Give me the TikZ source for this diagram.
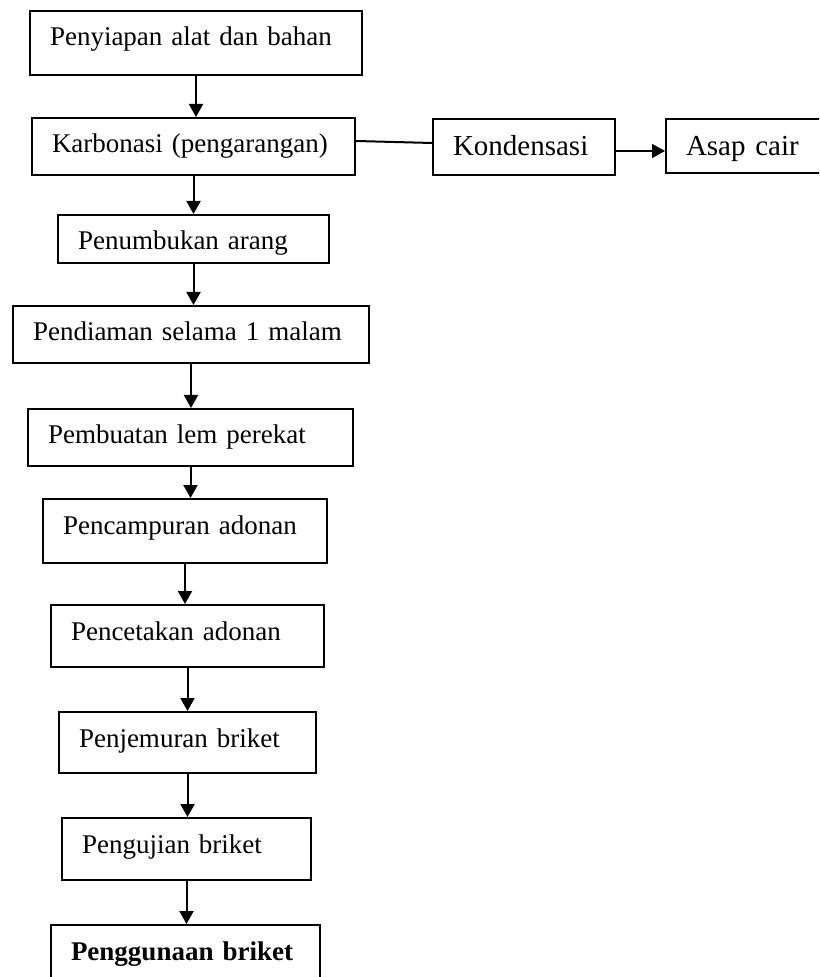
\documentclass[tikz,border=0pt]{standalone}
\usepackage{fontspec}
\setmainfont{Liberation Serif}
\usepackage{tikz}
\usetikzlibrary{arrows.meta}

\tikzset{
	kotak/.style={draw, line width=1pt, anchor=north west, align=left, inner xsep=10pt, inner ysep=0pt, text height=17.5pt, font=\fontsize{13.5pt}{16pt}\selectfont},
	kotakb/.style={kotak, text height=18.5pt, font=\fontsize{14.5pt}{17pt}\selectfont},
	panah/.style={-{Triangle[width=7pt,length=6.5pt]}, line width=1pt},
}

\begin{document}
\begin{tikzpicture}[x=0.5pt, y=-0.5pt]
				\useasboundingbox (0,0) rectangle (819,977);
				\clip (0,0) rectangle (819,977);
				
				%Main steps
				\node[kotak, text width=146pt, text depth=14.5pt] (siap) at (29,10) {Penyiapan alat dan bahan};
				\node[kotak, text width=141.5pt, text depth=11pt] (karbon) at (31,117) {Karbonasi (pengarangan)};
				\node[kotak, text width=115.5pt, text depth=6.5pt] (tumbuk) at (57,214) {Penumbukan arang};
				\node[kotak, text width=158pt, text depth=11pt] (diam) at (12,305) {Pendiaman selama 1 malam};
				\node[kotak, text width=142.5pt, text depth=11pt] (lem) at (27,408) {Pembuatan lem perekat};
				\node[kotak, text width=122pt, text depth=14.5pt] (campur) at (42,498) {Pencampuran adonan};
				\node[kotak, text width=116.5pt, text depth=13.5pt] (cetak) at (50,604) {Pencetakan adonan};
				\node[kotak, text width=108.5pt, text depth=13pt] (jemur) at (58,711) {Penjemuran briket};
				\node[kotak, text width=104.5pt, text depth=13.5pt] (uji) at (61,817) {Pengujian briket};
				\node[kotak, text width=114.5pt, text depth=12.5pt] (guna) at (50,924) {\textbf{Penggunaan briket}};
				
				%Side branch
				\node[kotakb, text width=71pt, text depth=9.5pt] (kondensasi) at (432,118) {Kondensasi};
				\node[kotakb, text width=65pt, text depth=8.5pt] (asap) at (665,118) {Asap cair};
				
				%Lines
				\draw[panah] (siap.south) -- (siap.south |- karbon.north);
				\draw[panah] (karbon.south) -- (karbon.south |- tumbuk.north);
				\draw[panah] (tumbuk.south) -- (tumbuk.south |- diam.north);
				\draw[panah] (diam.south) -- (diam.south |- lem.north);
				\draw[panah] (lem.south) -- (lem.south |- campur.north);
				\draw[panah] (campur.south) -- (campur.south |- cetak.north);
				\draw[panah] (cetak.south) -- (cetak.south |- jemur.north);
				\draw[panah] (jemur.south) -- (jemur.south |- uji.north);
				\draw[panah] (uji.south) -- (uji.south |- guna.north);
				\draw[line width=1pt] ([yshift=2.75pt]karbon.east) -- ([yshift=2pt]kondensasi.west);
				\draw[panah, line width=0.7pt] ([yshift=-2pt]kondensasi.east) -- ([yshift=-2pt]kondensasi.east -| asap.west);
			\end{tikzpicture}
\end{document}
